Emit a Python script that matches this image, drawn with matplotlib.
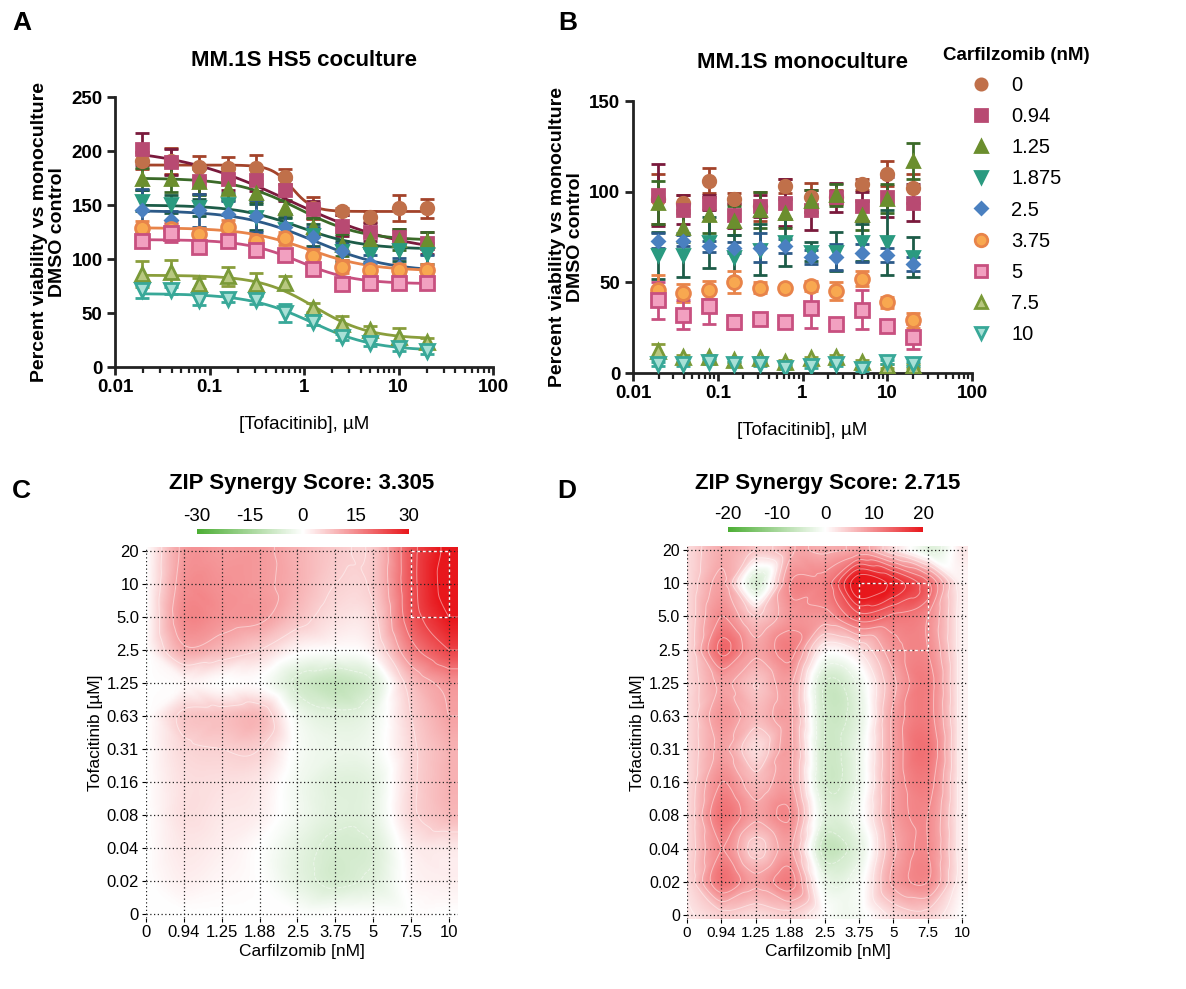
import numpy as np
import matplotlib
matplotlib.use('Agg')
import matplotlib.pyplot as plt
import matplotlib.tri as mtri
from matplotlib.colors import LinearSegmentedColormap
from matplotlib.lines import Line2D
from matplotlib.ticker import LogLocator, NullFormatter, FixedLocator, FuncFormatter

plt.rcParams['font.family'] = ['Liberation Sans', 'DejaVu Sans']
plt.rcParams['axes.unicode_minus'] = False

# ---------------- data ----------------
tofa_um = [0.0195, 0.039, 0.078, 0.156, 0.3125, 0.625, 1.25, 2.5, 5, 10, 20]
carf_nm = ['0', '0.94', '1.25', '1.875', '2.5', '3.75', '5', '7.5', '10']

# A: MM.1S HS5 coculture (mean, sd), one row per carfilzomib dose
coc_mean = [
    [191, 191, 185, 184, 184, 176, 147, 144, 139, 147, 147],
    [202, 190, 172, 174, 173, 164, 146, 131, 125, 120, 115],
    [174, 174, 171, 165, 161, 147, 130, 113, 118, 118, 117],
    [154, 151, 148, 151, 139, 128, 122, 107, 105, 108, 105],
    [145, 136, 145, 142, 140, 130, 120, 107, 96, 93, 90],
    [129, 128, 123, 130, 117, 119, 103, 93, 90, 90, 90],
    [117, 124, 111, 117, 108, 104, 91, 77, 78, 78, 78],
    [86, 88, 77, 84, 77, 78, 55, 40, 34, 28, 23],
    [71, 71, 62, 63, 62, 50, 42, 28, 22, 18, 15],
]
coc_sd = [
    [8, 12, 10, 10, 12, 7, 10, 3, 5, 12, 9],
    [15, 12, 12, 10, 10, 10, 8, 10, 8, 8, 10],
    [10, 12, 12, 10, 8, 8, 8, 10, 8, 10, 8],
    [10, 8, 8, 10, 12, 10, 10, 10, 8, 10, 10],
    [20, 8, 15, 12, 15, 12, 10, 8, 8, 8, 14],
    [6, 6, 6, 6, 5, 6, 6, 6, 4, 5, 5],
    [5, 8, 5, 5, 5, 5, 5, 4, 4, 4, 4],
    [12, 11, 5, 9, 10, 6, 4, 7, 4, 8, 4],
    [7, 3, 5, 3, 4, 8, 3, 3, 3, 3, 3],
]
# fitted 4PL curves: top, bottom, EC50 (uM), hill
coc_top = [187, 204, 175, 150, 145, 129, 118, 85, 68]
coc_bottom = [144, 104, 117, 109, 88, 89, 77, 26, 15]
coc_ec50 = [0.75, 0.7, 0.9, 0.9, 1.3, 1.1, 0.9, 1.3, 1.2]
coc_hill = [4.0, 0.7, 1.3, 1.3, 1.1, 1.3, 1.5, 1.5, 1.3]

# B: MM.1S monoculture
mono_mean = [
    [96, 94, 106, 96, 92, 103, 97, 97, 104, 110, 102],
    [98, 90, 94, 87, 92, 94, 90, 97, 92, 97, 94],
    [94, 80, 87, 84, 90, 88, 95, 98, 87, 96, 117],
    [65, 65, 72, 64, 68, 72, 67, 67, 72, 72, 64],
    [73, 73, 70, 69, 69, 70, 64, 64, 66, 65, 60],
    [46, 44, 46, 50, 47, 47, 48, 45, 52, 39, 29],
    [40, 32, 37, 28, 30, 28, 36, 27, 35, 26, 20],
    [12, 9, 9, 7, 8, 6, 8, 9, 6, 4, 4],
    [5, 5, 6, 5, 5, 3, 4, 5, 2, 6, 5],
]
mono_sd = [
    [14, 4, 7, 3, 8, 4, 8, 4, 3, 7, 8],
    [17, 8, 4, 7, 6, 13, 11, 8, 8, 11, 10],
    [12, 8, 10, 8, 10, 8, 6, 6, 8, 8, 10],
    [13, 12, 14, 12, 14, 13, 5, 11, 10, 18, 11],
    [4, 3, 3, 3, 8, 4, 4, 7, 5, 4, 4],
    [8, 5, 5, 6, 3, 1, 3, 5, 4, 3, 4],
    [10, 8, 10, 4, 2, 1, 11, 1, 11, 2, 7],
    [4, 1, 1, 1, 1, 1, 1, 1, 1, 1, 1],
    [1, 1, 1, 1, 1, 1, 1, 1, 1, 1, 1],
]

# C/D: ZIP delta scores, rows = tofacitinib (0 .. 20 uM), cols = carfilzomib (0 .. 10 nM)
tofa_labels = ['0', '0.02', '0.04', '0.08', '0.16', '0.31', '0.63', '1.25', '2.5', '5.0', '10', '20']
carf_labels = ['0', '0.94', '1.25', '1.88', '2.5', '3.75', '5', '7.5', '10']
zip_coc = [
    [0, 0, 0, 0, 0, 0, 0, 0, 0],
    [0, 2, 1, 0, -4, -7, -5, 1, 2],
    [0, 3, 2, 0, -4, -7, -6, 2, 3],
    [0, 4, 3, 2, -2, -5, -4, 5, 9],
    [0, 4, 4, 3, -2, -5, -4, 5, 10],
    [0, 5, 6, 6, -1, -3, -2, 5, 10],
    [0, 7, 8, 9, -2, -5, -3, 6, 12],
    [0, 1, 0, 0, -7, -10, -6, 8, 14],
    [0, 11, 9, 6, 1, 0, 2, 16, 24],
    [0, 15, 14, 13, 8, 4, 5, 21, 30],
    [0, 14, 14, 13, 10, 6, 7, 22, 33],
    [0, 13, 13, 13, 10, 7, 7, 22, 32],
]
zip_mono = [
    [2, 4, 3, 4, 0, -1, 3, 4, 0],
    [3, 12, 8, 11, -2, -1, 8, 10, 1],
    [3, 10, 4, 8, -6, -3, 7, 10, 1],
    [3, 12, 8, 10, -3, -1, 8, 10, 1],
    [3, 10, 6, 8, -5, -2, 8, 11, 1],
    [3, 8, 3, 8, -5, -2, 8, 12, 1],
    [3, 9, 6, 8, -5, -3, 8, 11, 1],
    [3, 8, 5, 8, -5, -2, 7, 11, 1],
    [3, 13, 8, 11, 1, 3, 9, 10, 1],
    [3, 10, 5, 9, 9, 14, 12, 10, 1],
    [3, 8, -4, 10, 11, 22, 19, 13, 1],
    [3, 7, 5, 7, 7, 8, 3, -3, 2],
]

# ---------------- styles ----------------
markers = ['o', 's', '^', 'v', 'D', 'o', 's', '^', 'v']
face_colors = ['#c0704a', '#b84a72', '#6b8e2e', '#2a9a80', '#4a80c0',
               '#f8a850', '#f2a0c0', '#b8c880', '#a8e0d6']
edge_colors = ['#c0704a', '#b84a72', '#6b8e2e', '#2a9a80', '#4a80c0',
               '#e8844a', '#c85080', '#7a9a38', '#38a898']
line_colors = ['#a3432a', '#7a1a3c', '#3b6a28', '#1d5c48', '#2c5a88',
               '#e8844a', '#c85080', '#8a9e3c', '#38a898']
marker_sizes = [9, 9, 9, 9, 6.5, 10, 10, 10, 10]

fig = plt.figure(figsize=(11.86, 9.89), dpi=100)
W, H = 1186, 989


def px_axes(left, top, right, bottom):
    return fig.add_axes([left / W, 1 - bottom / H, (right - left) / W, (bottom - top) / H])


def style_dose_axes(ax, ymax):
    ax.set_xscale('log')
    ax.set_xlim(0.01, 100)
    ax.set_ylim(0, ymax)
    ax.set_yticks(np.arange(0, ymax + 1, 50))
    ax.xaxis.set_major_locator(FixedLocator([0.01, 0.1, 1, 10, 100]))
    ax.xaxis.set_major_formatter(FuncFormatter(lambda v, p: f'{v:g}'))
    ax.xaxis.set_minor_locator(LogLocator(base=10, subs=np.arange(2, 10)))
    ax.xaxis.set_minor_formatter(NullFormatter())
    for s in ['top', 'right']:
        ax.spines[s].set_visible(False)
    for s in ['left', 'bottom']:
        ax.spines[s].set_linewidth(2)
        ax.spines[s].set_color('#222222')
    ax.tick_params(which='major', length=6, width=2, color='#222222', labelsize=13.5, pad=3)
    ax.tick_params(which='minor', length=4, width=1.6, color='#222222')
    for lab in ax.get_xticklabels() + ax.get_yticklabels():
        lab.set_fontweight('bold')
    ax.set_xlabel('[Tofacitinib], µM', fontsize=13.5, labelpad=14)
    ax.set_ylabel('Percent viability vs monoculture\nDMSO control', fontsize=14,
                  fontweight='bold', labelpad=4, linespacing=1.05)


def draw_points(ax, means, sds):
    for i in range(len(means)):
        ax.errorbar(tofa_um, means[i], yerr=sds[i], fmt='none', ecolor=line_colors[i],
                    elinewidth=2, capsize=5, capthick=2, zorder=2 + i * 0.1)
        ax.plot(tofa_um, means[i], ls='none', marker=markers[i], ms=marker_sizes[i],
                mfc=face_colors[i], mec=edge_colors[i], mew=2, zorder=3 + i * 0.1)


# ---- panel A ----
ax_a = px_axes(115, 97, 493, 367)
style_dose_axes(ax_a, 250)
xs = np.logspace(np.log10(tofa_um[0]), np.log10(tofa_um[-1]), 200)
for i in range(len(coc_mean)):
    fit = coc_bottom[i] + (coc_top[i] - coc_bottom[i]) / (1 + (xs / coc_ec50[i]) ** coc_hill[i])
    ax_a.plot(xs, fit, color=line_colors[i], lw=2, zorder=2.5 + i * 0.1)
draw_points(ax_a, coc_mean, coc_sd)
ax_a.set_title('MM.1S HS5 coculture', fontsize=16, fontweight='bold', pad=22)

# ---- panel B ----
ax_b = px_axes(633, 101, 972, 373)
style_dose_axes(ax_b, 150)
draw_points(ax_b, mono_mean, mono_sd)
ax_b.set_title('MM.1S monoculture', fontsize=16, fontweight='bold', pad=24)

handles = [Line2D([], [], ls='none', marker=markers[i], ms=marker_sizes[i] * 0.9,
                  mfc=face_colors[i], mec=edge_colors[i], mew=2) for i in range(len(carf_nm))]
fig.legend(handles, carf_nm, title='Carfilzomib (nM)', loc='upper left',
           bbox_to_anchor=(925 / W, 1 - 29 / H), frameon=False, fontsize=14.5,
           title_fontproperties={'weight': 'bold', 'size': 13.5},
           handlelength=1.0, handletextpad=1.0, labelspacing=0.6)

# ---- panels C / D ----
zip_cmap = LinearSegmentedColormap.from_list('zip', ['#4cae34', '#ffffff', '#e8171c'])


def draw_synergy(box, cbar_box, grid, vmax, ticks, step, xmax, hi_box, xsize, ysize):
    ax = px_axes(*box)
    z = np.array(grid, dtype=float)
    ny, nx = z.shape
    gx, gy = np.meshgrid(np.arange(nx), np.arange(ny))
    triang = mtri.Triangulation(gx.ravel(), gy.ravel())
    interp = mtri.CubicTriInterpolator(triang, z.ravel(), kind='geom')
    fx = np.linspace(0, xmax, 300)
    fy = np.linspace(-0.12, ny - 1 + 0.12, 300)
    FX, FY = np.meshgrid(fx, fy)
    FZ = interp(np.clip(FX, 0, nx - 1), np.clip(FY, 0, ny - 1))
    im = ax.imshow(FZ, origin='lower', extent=(0, xmax, -0.12, ny - 1 + 0.12),
                   cmap=zip_cmap, vmin=-vmax, vmax=vmax, aspect='auto', interpolation='bilinear')
    levels = [l for l in np.arange(-vmax, vmax + step, step) if abs(l) > 1e-9]
    ax.contour(FX, FY, FZ, levels=levels, colors='white', linewidths=0.7, alpha=0.45)
    for i in range(nx):
        ax.axvline(i, color='#222222', ls=(0, (1, 2)), lw=0.9)
    for j in range(ny):
        ax.axhline(j, color='#222222', ls=(0, (1, 2)), lw=0.9)
    x0, x1, y0, y1 = hi_box
    ax.plot([x0, x1, x1, x0, x0], [y0, y0, y1, y1, y0], color='white', ls=(0, (2, 2)), lw=1)
    ax.set_xlim(0, xmax)
    ax.set_ylim(-0.12, ny - 1 + 0.12)
    ax.set_xticks(range(nx))
    ax.set_xticklabels(carf_labels, fontsize=xsize)
    ax.set_yticks(range(ny))
    ax.set_yticklabels(tofa_labels, fontsize=ysize)
    for s in ax.spines.values():
        s.set_visible(False)
    ax.tick_params(length=3, width=0.8, pad=2)
    ax.set_xlabel('Carfilzomib [nM]', fontsize=12.5, labelpad=3)
    ax.set_ylabel('Tofacitinib [µM]', fontsize=12.5, labelpad=3)

    cax = px_axes(*cbar_box)
    cb = fig.colorbar(im, cax=cax, orientation='horizontal', ticks=ticks)
    cb.outline.set_visible(False)
    cax.xaxis.set_ticks_position('top')
    cax.tick_params(length=0, pad=3, labelsize=13.5)
    return ax


ax_c = draw_synergy((146, 547, 458, 918), (197, 529, 409, 534), zip_coc, 30,
                    [-30, -15, 0, 15, 30], 6, 8.24, (7, 8, 9, 11), 12, 12)
ax_c.set_title('ZIP Synergy Score: 3.305', fontsize=16, fontweight='bold', pad=42)

ax_d = draw_synergy((687, 546, 968, 919), (728, 527, 923, 532), zip_mono, 20,
                    [-20, -10, 0, 10, 20], 2.5, 8.17, (5, 7, 8, 10), 11, 11.5)
ax_d.set_title('ZIP Synergy Score: 2.715', fontsize=16, fontweight='bold', pad=41)

# panel letters
for letter, (px, py) in zip('ABCD', [(22, 23), (568, 23), (21, 491), (567, 491)]):
    fig.text(px / W, 1 - py / H, letter, fontsize=19, fontweight='bold', ha='center', va='center')

fig.savefig('out.png', dpi=100)
